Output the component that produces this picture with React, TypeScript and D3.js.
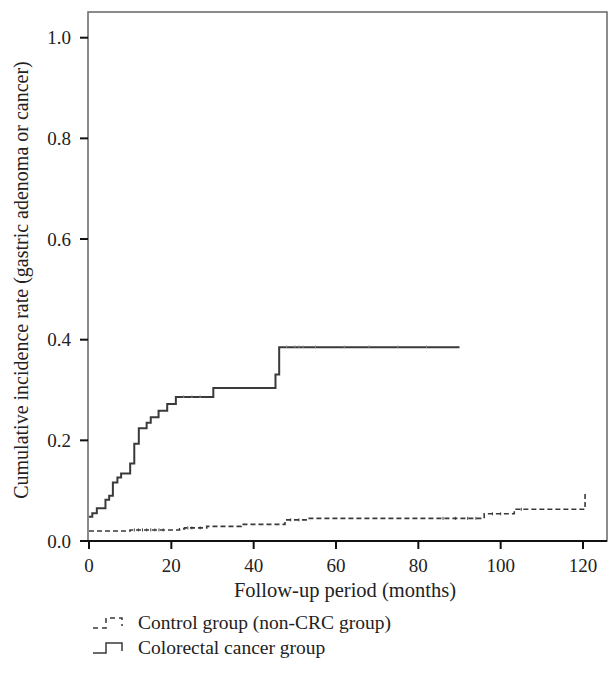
import React from "react";
import * as d3 from "d3";

// colorectal cancer group (solid step)
const crcTime = [0, 0.8, 1.9, 4.0, 4.9, 5.8, 6.9, 7.8, 10.0, 11.0, 12.1, 14.0, 15.0, 16.9, 19.0, 21.1, 30.2, 45.3, 46.2, 90];
const crcRate = [0.048, 0.055, 0.065, 0.082, 0.09, 0.116, 0.126, 0.134, 0.154, 0.193, 0.224, 0.235, 0.246, 0.259, 0.272, 0.286, 0.304, 0.331, 0.385, 0.385];
const crcCensor = [23, 25, 27, 48, 50, 51, 52, 55, 62, 68, 75, 82];

// control group (dashed step)
const ctrlTime = [0, 10, 22, 23.2, 28.6, 37, 47.6, 53.5, 96, 103.3, 120.5, 120.5];
const ctrlRate = [0.02, 0.022, 0.024, 0.026, 0.029, 0.033, 0.042, 0.045, 0.054, 0.063, 0.078, 0.095];
const ctrlCensor = [11, 12, 13, 14, 15, 16, 17, 18, 24, 25, 27, 49, 51, 86, 89, 92, 94, 98, 100, 105];

const xTicks = [0, 20, 40, 60, 80, 100, 120];
const yTicks = [0, 0.2, 0.4, 0.6, 0.8, 1.0];

const legendItems = ["Control group (non-CRC group)", "Colorectal cancer group"];

const W = 611;
const H = 686;
const frame = { left: 88, right: 607, top: 12, bottom: 541 };
const font = "'Liberation Serif', 'DejaVu Serif', serif";
const ink = "#3a3a3a";

export default function App() {
  const x = d3.scaleLinear().domain([0, 120]).range([89, 583]);
  const y = d3.scaleLinear().domain([0, 1]).range([541, 37.7]);

  const step = d3
    .line<[number, number]>()
    .x((d) => x(d[0]))
    .y((d) => y(d[1]))
    .curve(d3.curveStepAfter);

  const crcPts = crcTime.map((t, i) => [t, crcRate[i]] as [number, number]);
  const ctrlPts = ctrlTime.map((t, i) => [t, ctrlRate[i]] as [number, number]);

  // level of a step function at time t
  const levelAt = (times: number[], rates: number[], t: number) => {
    let v = rates[0];
    times.forEach((tt, i) => {
      if (tt <= t) v = rates[i];
    });
    return v;
  };

  return (
    <svg
      width={W}
      height={H}
      style={{ position: "absolute", left: 0, top: 0, background: "#fff" }}
      fontFamily={font}
    >
      {/* frame */}
      <rect
        x={frame.left}
        y={frame.top}
        width={frame.right - frame.left}
        height={frame.bottom - frame.top}
        fill="none"
        stroke="#666"
        strokeWidth={1.5}
      />

      {/* y axis */}
      {yTicks.map((t) => (
        <g key={t}>
          <line x1={80} x2={frame.left} y1={y(t)} y2={y(t)} stroke="#111" strokeWidth={2} />
          <text x={71} y={y(t)} dy="0.35em" textAnchor="end" fontSize={19} fill="#222">
            {d3.format(".1f")(t)}
          </text>
        </g>
      ))}

      {/* x axis */}
      {xTicks.map((t) => (
        <g key={t}>
          <line x1={x(t)} x2={x(t)} y1={frame.bottom} y2={frame.bottom + 8} stroke="#111" strokeWidth={2} />
          <text x={x(t)} y={572} textAnchor="middle" fontSize={19} fill="#222">
            {t}
          </text>
        </g>
      ))}
      <line x1={frame.left} x2={frame.right} y1={frame.bottom} y2={frame.bottom} stroke="#111" strokeWidth={2} />

      <text x={345} y={597} textAnchor="middle" fontSize={20.5} fill="#222">
        Follow-up period (months)
      </text>
      <text
        transform={`translate(28,${280}) rotate(-90)`}
        textAnchor="middle"
        fontSize={20}
        fill="#222"
      >
        Cumulative incidence rate (gastric adenoma or cancer)
      </text>

      {/* curves */}
      <path d={step(ctrlPts) ?? ""} fill="none" stroke={ink} strokeWidth={1.6} strokeDasharray="5,3" />
      {ctrlCensor.map((t) => {
        const v = levelAt(ctrlTime, ctrlRate, t);
        return <line key={t} x1={x(t)} x2={x(t)} y1={y(v) - 1.5} y2={y(v) + 1.5} stroke={ink} strokeWidth={1} />;
      })}
      <path d={step(crcPts) ?? ""} fill="none" stroke={ink} strokeWidth={2} />
      {crcCensor.map((t) => {
        const v = levelAt(crcTime, crcRate, t);
        return <line key={t} x1={x(t)} x2={x(t)} y1={y(v) - 2} y2={y(v) + 1} stroke="#999" strokeWidth={0.8} />;
      })}

      {/* legend */}
      <path d="M93,628 H106 V618 H122 V626" fill="none" stroke={ink} strokeWidth={1.5} strokeDasharray="5,4" />
      <path d="M93,653 H106 V643 H122 V651" fill="none" stroke={ink} strokeWidth={1.5} />
      {legendItems.map((s, i) => (
        <text key={s} x={138} y={629 + i * 25} fontSize={19.5} fill="#222">
          {s}
        </text>
      ))}
    </svg>
  );
}
